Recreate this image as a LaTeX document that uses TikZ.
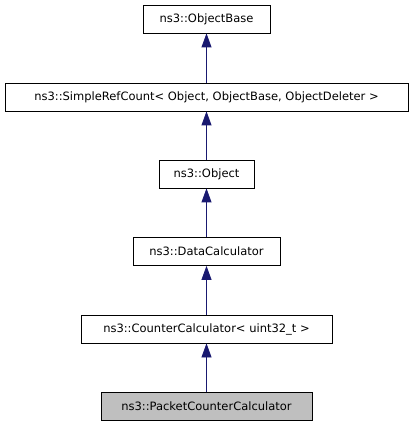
\documentclass[tikz,border=0pt]{standalone}
\usepackage{fontspec}
\setmainfont{DejaVu Sans}
\usetikzlibrary{arrows.meta}
\definecolor{edgeblue}{HTML}{191970}
\definecolor{hl}{HTML}{BFBFBF}
\begin{document}
\begin{tikzpicture}[x=1pt,y=-1pt,
  cls/.style={draw=black,line width=0.8pt,fill=white,inner sep=0pt,minimum height=28pt,font=\fontsize{11.5}{13}\selectfont},
  inh/.style={draw=edgeblue,line width=0.8pt,-{Triangle[length=14pt,width=10pt]},fill=edgeblue}]
\useasboundingbox (0,0) rectangle (413,427);
\node[cls,minimum width=127pt] (ob) at (206.5,19) {ns3::ObjectBase};
\node[cls,minimum width=403pt] (src) at (206.5,97) {ns3::SimpleRefCount< Object, ObjectBase, ObjectDeleter >};
\node[cls,minimum width=95pt] (o) at (206.5,174) {ns3::Object};
\node[cls,minimum width=147pt] (dc) at (206.5,251.5) {ns3::DataCalculator};
\node[cls,minimum width=251pt] (cc) at (206.5,329) {ns3::CounterCalculator< uint32\_t >};
\node[cls,fill=hl,minimum width=211pt] (pcc) at (206.5,406) {ns3::PacketCounterCalculator};
\draw[inh] (src.north) -- (ob.south);
\draw[inh] (o.north) -- (src.south);
\draw[inh] (dc.north) -- (o.south);
\draw[inh] (cc.north) -- (dc.south);
\draw[inh] (pcc.north) -- (cc.south);
\end{tikzpicture}
\end{document}
